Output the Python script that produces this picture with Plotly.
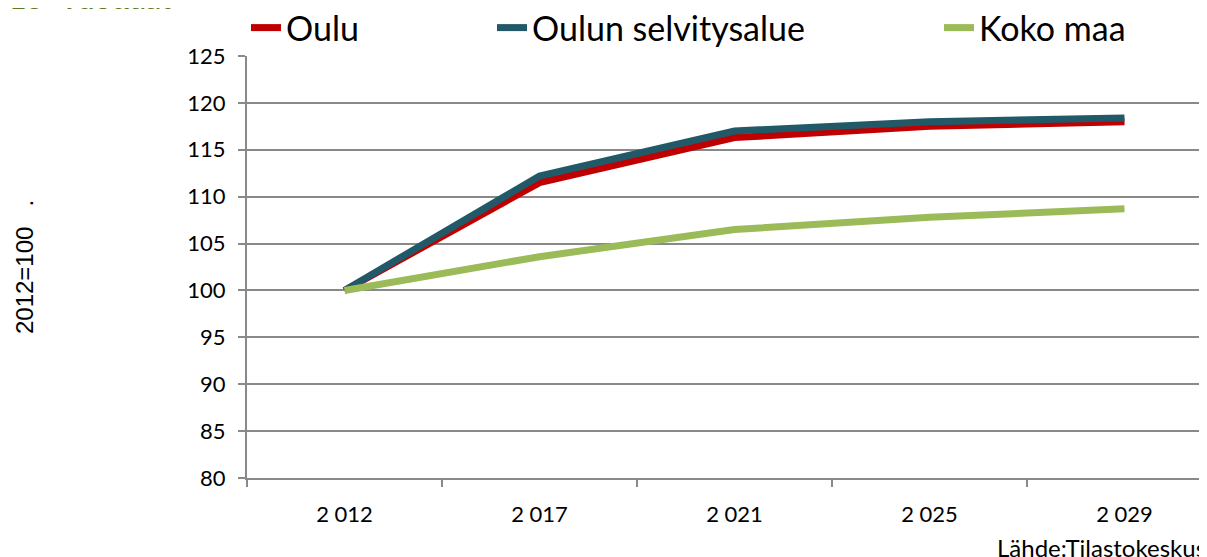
import plotly.graph_objects as go

# The page body adds an 8px offset; the figure is sized to fill the rest of the window.
OFF = 8
W, H = 1207 - OFF, 557 - OFF

years = ["2 012", "2 017", "2 021", "2 025", "2 029"]
oulu = [100, 111.5, 116.3, 117.5, 118.0]
selvitysalue = [100, 112.2, 117.0, 118.0, 118.4]
koko_maa = [100, 103.6, 106.5, 107.8, 108.7]

series_names = ["Oulu", "Oulun selvitysalue", "Koko maa"]
series_values = [oulu, selvitysalue, koko_maa]
series_colors = ["#C00000", "#215968", "#9BBB59"]
legend_ids = ["legend", "legend2", "legend3"]
legend_x_px = [238, 484, 931]

y_ticks = [80, 85, 90, 95, 100, 105, 110, 115, 120, 125]

# plot area in window pixels: x 247..(1222), y 56..478
ml = 247 - OFF
mt = 56 - OFF
mb = H - (478 - OFF)
mr = 0
PW, PH = W - ml - mr, H - mt - mb
grid_col = "#898989"


def px_x(x):
    return (x - ml) / PW


def px_y(y):
    return (H - mb - y) / PH


fig = go.Figure()
for name, vals, col, lid in zip(series_names, series_values, series_colors, legend_ids):
    fig.add_trace(go.Scatter(
        x=years, y=vals, name=name, mode="lines",
        line=dict(color=col, width=7),
        legend=lid,
    ))

legend_common = dict(
    orientation="h",
    xref="container", yref="container",
    yanchor="middle", xanchor="left",
    font=dict(family="Lato", size=34, color="#000000"),
    bgcolor="rgba(0,0,0,0)",
    borderwidth=0,
)

layout_legends = {}
for lid, xp in zip(legend_ids, legend_x_px):
    layout_legends[lid] = dict(legend_common, x=xp / W, y=1 - 20 / H)

fig.update_layout(
    width=W, height=H,
    margin=dict(l=ml, r=mr, t=mt, b=mb, pad=0, autoexpand=False),
    paper_bgcolor="white", plot_bgcolor="white",
    showlegend=True,
    **layout_legends,
    xaxis=dict(
        type="category",
        automargin=False,
        range=[-0.5, 4.5 - (1222 - 1207) / 195],
        showgrid=False,
        showline=True, linecolor=grid_col, linewidth=2,
        ticks="outside", tickson="boundaries", ticklen=7, tickwidth=2, tickcolor=grid_col,
        tickfont=dict(family="Lato", size=22, color="#000000"),
        ticklabelstandoff=16,
        zeroline=False,
    ),
    yaxis=dict(
        range=[80, 125],
        automargin=False,
        tickvals=y_ticks,
        showgrid=True, gridcolor=grid_col, gridwidth=2,
        showline=True, linecolor=grid_col, linewidth=2,
        ticks="outside", ticklen=7, tickwidth=2, tickcolor=grid_col,
        tickfont=dict(family="Lato", size=22, color="#000000"),
        ticklabelstandoff=8,
        zeroline=False,
        title=dict(
            text="\u00a0\u00a0\u00a0\u00a02012=100   .",
            font=dict(family="Liberation Sans", size=24, color="#000000"),
            standoff=147,
        ),
    ),
    annotations=[
        dict(
            text="<b>15- vuotiaat</b>", xref="paper", yref="paper",
            x=px_x(-1), y=px_y(9),
            xanchor="left", yanchor="bottom", showarrow=False,
            font=dict(family="Lato", size=30, color="#5E7B23"),
        ),
        dict(
            text="Lähde:Tilastokeskus", xref="paper", yref="paper",
            x=px_x(987), y=px_y(539),
            xanchor="left", yanchor="middle", showarrow=False,
            font=dict(family="Lato", size=24, color="#000000"),
        ),
    ],
)

fig.write_html("out.html")
